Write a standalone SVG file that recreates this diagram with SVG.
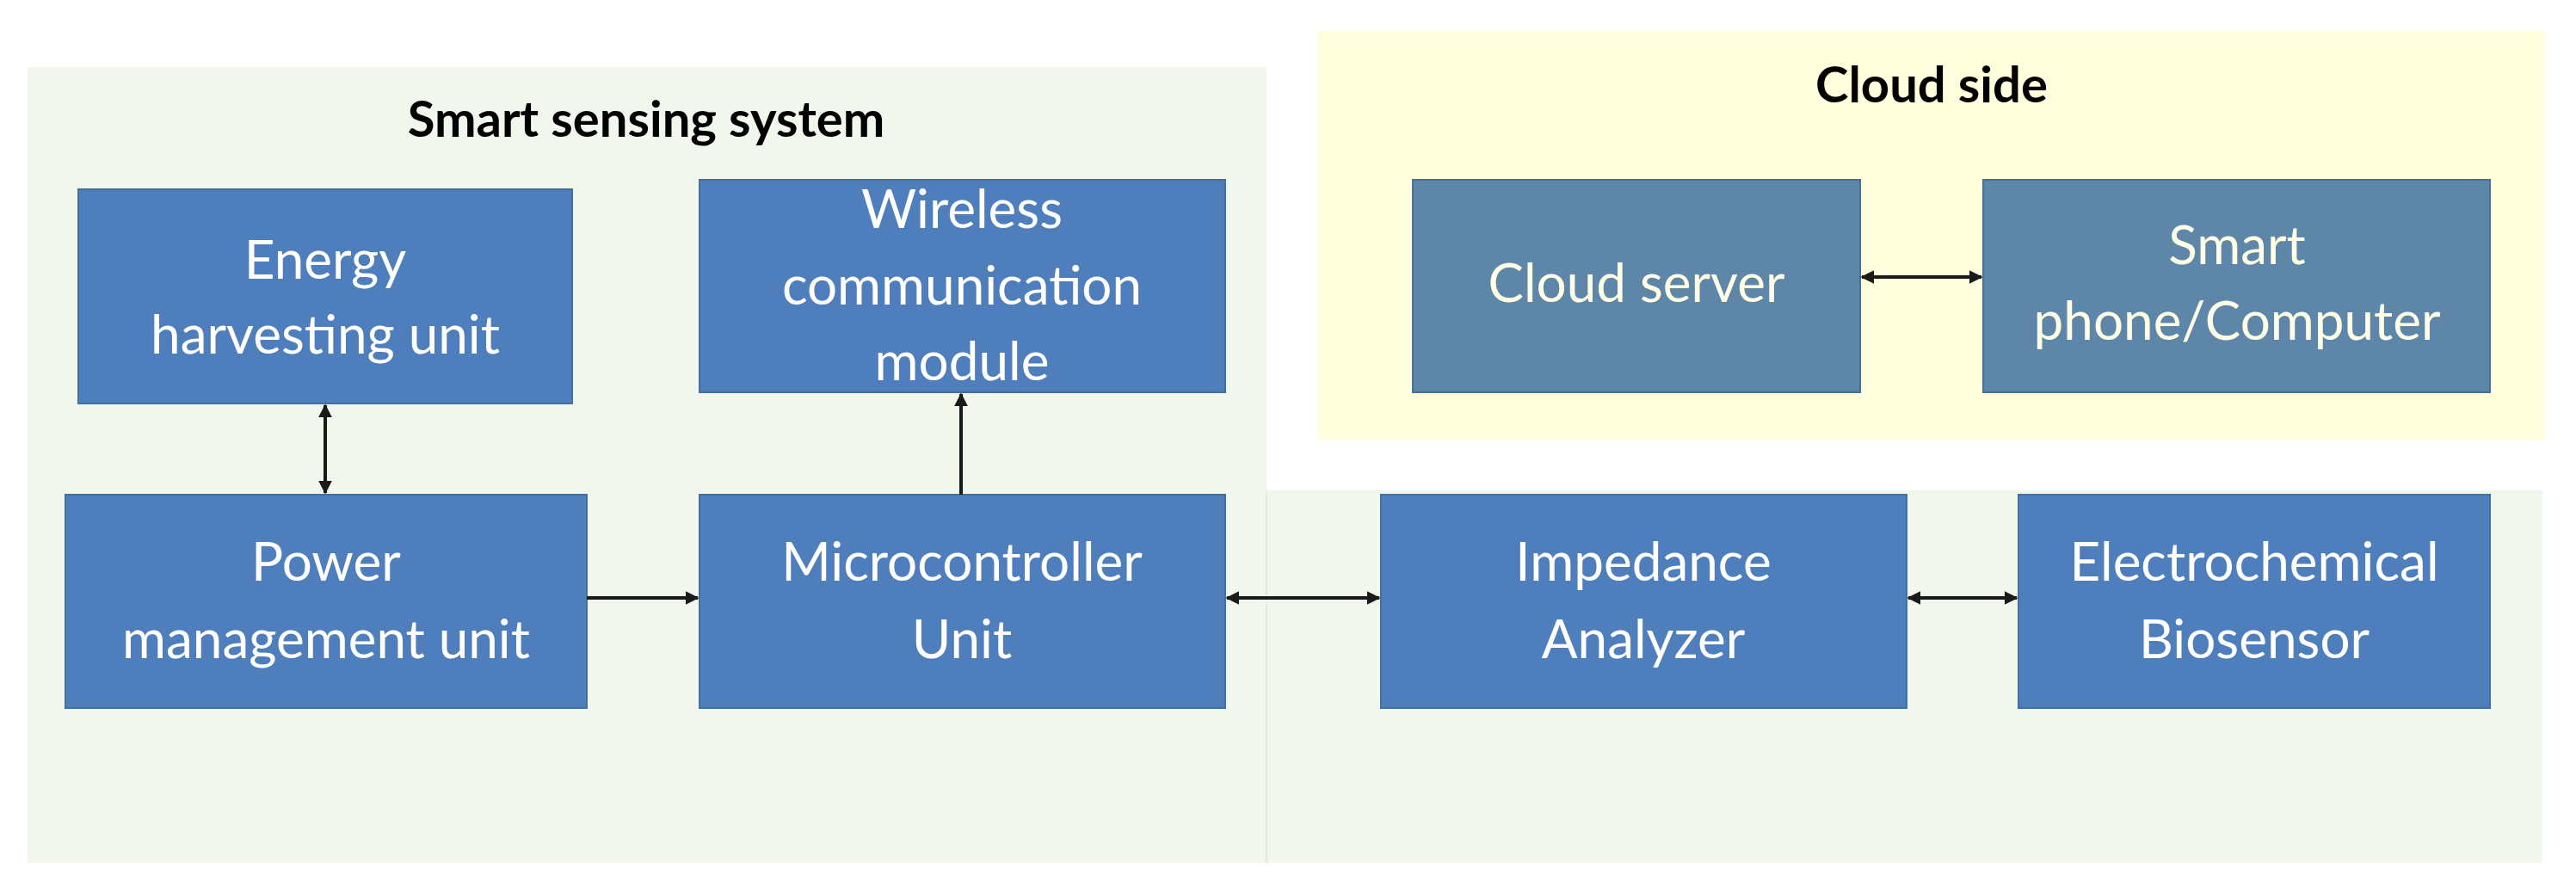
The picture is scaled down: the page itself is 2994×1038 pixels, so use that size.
<svg xmlns="http://www.w3.org/2000/svg" width="2994" height="1038" viewBox="0 0 2994 1038">
<style>
.b{fill:#4F7EBC;stroke:#41719C;stroke-width:2}
.c{fill:#5E86A8;stroke:#41719C;stroke-width:2}
.t{font-family:Lato,"Open Sans",sans-serif;font-size:62px;fill:#FFFFFF;text-anchor:middle}
.tc{fill:#FFFFE6}
.h{font-family:Lato,"Open Sans",sans-serif;font-size:58px;font-weight:bold;fill:#000;text-anchor:middle}
.a{stroke:#1a1a1a;stroke-width:4;fill:none;marker-end:url(#ah)}
.d{marker-start:url(#as)}
</style>
<defs>
<marker id="ah" viewBox="0 0 10 10" refX="9" refY="5" markerWidth="4" markerHeight="4" orient="auto" markerUnits="strokeWidth"><path d="M0,0L10,5L0,10z" fill="#1a1a1a"/></marker>
<marker id="as" viewBox="0 0 10 10" refX="1" refY="5" markerWidth="4" markerHeight="4" orient="auto" markerUnits="strokeWidth"><path d="M10,0L0,5L10,10z" fill="#1a1a1a"/></marker>
</defs>
<rect width="2994" height="1038" fill="#fff"/>
<g id="panel-sensing">
<rect x="32" y="78" width="1440" height="925" fill="#F2F7EE"/>
<rect x="1472" y="570" width="1483" height="433" fill="#F2F7EE"/>
<line x1="1472" y1="570" x2="1472" y2="1003" stroke="#E2EEDC" stroke-width="2"/>
<text class="h" x="751" y="159">Smart sensing system</text>
</g>
<g id="panel-cloud">
<rect x="1532" y="36" width="1426" height="475" fill="#FFFFDD"/>
<text class="h" x="2245" y="119">Cloud side</text>
</g>
<g id="energy"><rect class="b" x="91" y="220" width="574" height="249"/><text class="t" x="378" y="324">Energy</text><text class="t" x="378" y="411">harvesting unit</text></g>
<g id="wireless"><rect class="b" x="813" y="209" width="611" height="247"/><text class="t" x="1118" y="265">Wireless</text><text class="t" x="1118" y="354">communication</text><text class="t" x="1118" y="442">module</text></g>
<g id="power"><rect class="b" x="76" y="575" width="606" height="248"/><text class="t" x="379" y="675">Power</text><text class="t" x="379" y="765">management unit</text></g>
<g id="mcu"><rect class="b" x="813" y="575" width="611" height="248"/><text class="t" x="1118" y="675">Microcontroller</text><text class="t" x="1118" y="765">Unit</text></g>
<g id="impedance"><rect class="b" x="1605" y="575" width="611" height="248"/><text class="t" x="1910" y="675">Impedance</text><text class="t" x="1910" y="765">Analyzer</text></g>
<g id="biosensor"><rect class="b" x="2346" y="575" width="548" height="248"/><text class="t" x="2620" y="675">Electrochemical</text><text class="t" x="2620" y="765">Biosensor</text></g>
<g id="cloudserver"><rect class="c" x="1642" y="209" width="520" height="247"/><text class="t tc" x="1902" y="351">Cloud server</text></g>
<g id="phone"><rect class="c" x="2305" y="209" width="589" height="247"/><text class="t tc" x="2600" y="307">Smart</text><text class="t tc" x="2600" y="395">phone/Computer</text></g>
<g id="connectors">
<line class="a d" x1="378" y1="471" x2="378" y2="573"/>
<line class="a" x1="1117" y1="575" x2="1117" y2="458"/>
<line class="a" x1="682" y1="695" x2="811" y2="695"/>
<line class="a d" x1="1426" y1="695" x2="1603" y2="695"/>
<line class="a d" x1="2218" y1="695" x2="2344" y2="695"/>
<line class="a d" x1="2164" y1="322" x2="2303" y2="322"/>
</g>
</svg>
